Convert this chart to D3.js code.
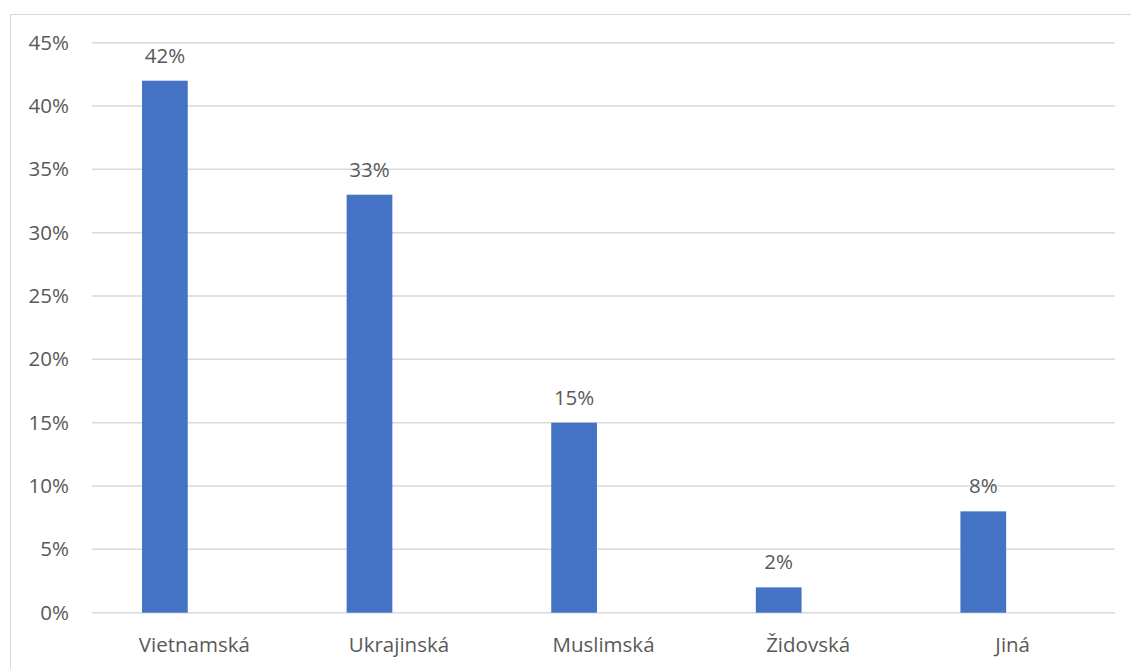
<!DOCTYPE html>
<html>
<head>
<meta charset="utf-8">
<script src="https://cdn.jsdelivr.net/npm/d3@7"></script>
<style>
  html, body { margin: 0; padding: 0; background: #fff; }
  svg { display: block; }
  text { font-family: "Open Sans", "Noto Sans", sans-serif; fill: #595959; }
</style>
</head>
<body>
<svg id="chart" width="1131" height="669"></svg>
<script>
// Categories and shares (percent)
const categories = ["Vietnamská", "Ukrajinská", "Muslimská", "Židovská", "Jiná"];
const values = [42, 33, 15, 2, 8];
const yTicks = [0, 5, 10, 15, 20, 25, 30, 35, 40, 45];

const FONT = "\"Open Sans\", \"Noto Sans\", sans-serif";
const FS = 20.5;
const svg = d3.select("#chart");

// Chart frame
svg.append("rect")
  .attr("x", 10.5).attr("y", 14.5)
  .attr("width", 1140).attr("height", 700)
  .attr("fill", "#fff").attr("stroke", "#d9d9d9").attr("stroke-width", 1);

const plot = { left: 92, right: 1115, top: 42.7, bottom: 612.7 };

const x = d3.scaleBand()
  .domain(categories)
  .range([plot.left, plot.right])
  .paddingInner(0).paddingOuter(0);

const y = d3.scaleLinear()
  .domain([0, 45])
  .range([plot.bottom, plot.top]);

// Horizontal gridlines
svg.append("g")
  .selectAll("line")
  .data(yTicks)
  .join("line")
  .attr("x1", plot.left).attr("x2", plot.right)
  .attr("y1", d => y(d)).attr("y2", d => y(d))
  .attr("stroke", "#d9d9d9").attr("stroke-width", 1.5);

// Y axis labels
const yAxis = d3.axisLeft(y)
  .tickValues(yTicks)
  .tickFormat(d => d + "%")
  .tickSize(0)
  .tickPadding(0);
const gy = svg.append("g")
  .attr("transform", `translate(69,0)`)
  .call(yAxis);
gy.select(".domain").remove();
gy.selectAll("text")
  .attr("font-size", FS)
  .attr("font-family", FONT)
  .attr("fill", "#595959");

// X axis labels
const xAxis = d3.axisBottom(x).tickSize(0).tickPadding(0);
const gx = svg.append("g")
  .attr("transform", `translate(0,${plot.bottom})`)
  .call(xAxis);
gx.select(".domain").remove();
gx.selectAll("text")
  .attr("dy", null)
  .attr("y", 39)
  .attr("font-size", FS)
  .attr("font-family", FONT)
  .attr("fill", "#595959");

// Bars sit left of the category centre
const barW = x.bandwidth() * 0.2235;
const barOffset = x.bandwidth() * 0.2445;

svg.append("g")
  .selectAll("rect")
  .data(values)
  .join("rect")
  .attr("x", (d, i) => x(categories[i]) + barOffset)
  .attr("y", d => y(d))
  .attr("width", barW)
  .attr("height", d => y(0) - y(d))
  .attr("fill", "#4472c4");

// Value labels
svg.append("g")
  .selectAll("text")
  .data(values)
  .join("text")
  .attr("x", (d, i) => x(categories[i]) + barOffset + barW / 2)
  .attr("y", d => y(d) - 18)
  .attr("text-anchor", "middle")
  .attr("font-size", FS)
  .text(d => d + "%");
</script>
</body>
</html>
